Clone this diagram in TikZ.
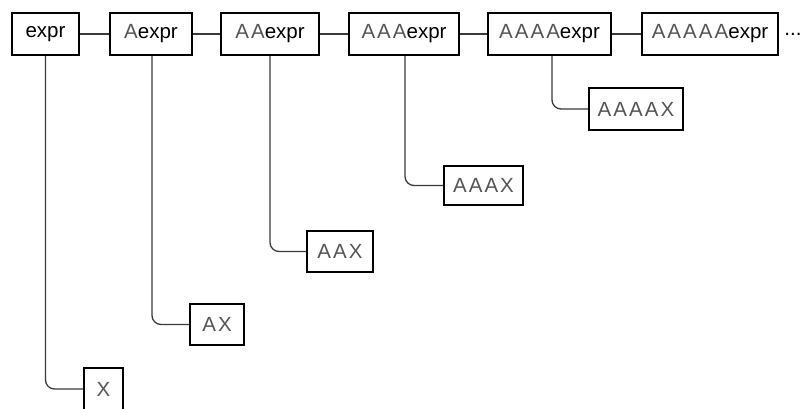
\documentclass[tikz,border=0pt]{standalone}
\usepackage{fontspec}
\setmainfont{Liberation Sans}
\newfontfamily\lightA[LetterSpace=10]{Liberation Sans}
\definecolor{lineg}{HTML}{3A3A3A}
\definecolor{agray}{HTML}{555555}
\newcommand{\Aa}[1]{{\lightA\color{agray}#1}}
\begin{document}
\begin{tikzpicture}[x=1pt,y=-1pt,
  box/.style={draw=black,line width=2.2pt,rectangle,inner sep=0pt,font=\fontsize{20.5}{22}\selectfont,fill=white},
  conn/.style={draw=lineg,line width=1.3pt,rounded corners=9pt}]
\useasboundingbox (0,0) rectangle (802,408);
% top row
\node[box,minimum width=67pt,minimum height=42pt] (e0) at (45.5,34) {expr};
\node[box,minimum width=82pt,minimum height=42pt] (e1) at (151,34) {\Aa{A}expr};
\node[box,minimum width=98pt,minimum height=42pt] (e2) at (270,34) {\Aa{AA}expr};
\node[box,minimum width=110pt,minimum height=42pt] (e3) at (404,34) {\Aa{AAA}expr};
\node[box,minimum width=123pt,minimum height=42pt] (e4) at (549.5,34) {\Aa{AAAA}expr};
\node[box,minimum width=136pt,minimum height=42pt] (e5) at (710,34) {\Aa{AAAAA}expr};
\node[font=\fontsize{20.5}{22}\selectfont,inner sep=0pt] (dots) at (793,34) {...};
% bottom boxes
\node[box,minimum width=39pt,minimum height=42pt] (x0) at (103.5,389) {\Aa{X}};
\node[box,minimum width=54pt,minimum height=41pt] (x1) at (217,324.5) {\Aa{AX}};
\node[box,minimum width=66pt,minimum height=41pt] (x2) at (340,251.5) {\Aa{AAX}};
\node[box,minimum width=79pt,minimum height=39pt] (x3) at (483.5,185.5) {\Aa{AAAX}};
\node[box,minimum width=94pt,minimum height=42pt] (x4) at (636,109) {\Aa{AAAAX}};
% horizontal connectors
\draw[conn] (e0.east) -- (e1.west);
\draw[conn] (e1.east) -- (e2.west);
\draw[conn] (e2.east) -- (e3.west);
\draw[conn] (e3.east) -- (e4.west);
\draw[conn] (e4.east) -- (e5.west);
% vertical connectors
\draw[conn] (e0.south) |- (x0.west);
\draw[conn] ([xshift=1pt]e1.south) |- (x1.west);
\draw[conn] (e2.south) |- (x2.west);
\draw[conn] ([xshift=1pt]e3.south) |- (x3.west);
\draw[conn] ([xshift=2.5pt]e4.south) |- (x4.west);
\end{tikzpicture}
\end{document}
